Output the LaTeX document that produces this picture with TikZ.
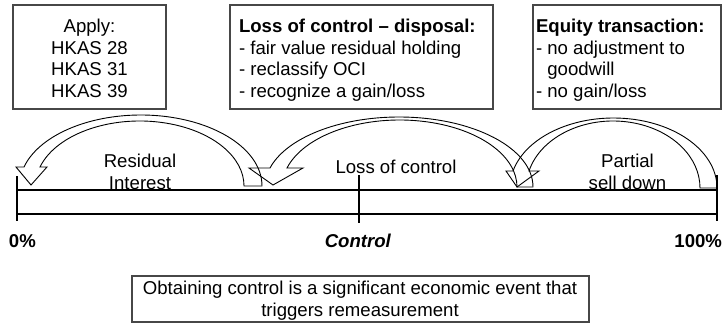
\documentclass[tikz,border=0pt]{standalone}
\usepackage{fontspec}
\setmainfont{Liberation Sans}
\usetikzlibrary{calc}

% geometry keys for a curved block arrow (pixel units, y measured downwards)
\pgfkeys{/bentarrow/.cd,
  yt/.store in=\baYt, yh/.store in=\baYh,
  ol/.store in=\baOl, or/.store in=\baOr, op/.store in=\baOp,
  il/.store in=\baIl, ir/.store in=\baIr, ip/.store in=\baIp,
  bl/.store in=\baBl, br/.store in=\baBr, tx/.store in=\baTx, ty/.store in=\baTy}

% hollow curved arrow: tail on the right, head on the left
\newcommand\bentarrow[1]{%
  \pgfkeys{/bentarrow/.cd,#1}%
  \pgfmathsetmacro\baTailY{325-\baYt}%
  \pgfmathsetmacro\baHeadY{325-\baYh}%
  \pgfmathsetmacro\baTipY{325-\baTy}%
  \pgfmathsetmacro\baRyo{\baYt-\baOp}%
  \pgfmathsetmacro\baRyi{\baYt-\baIp}%
  \pgfmathsetmacro\baSo{(\baYt-\baYh)/\baRyo}%
  \pgfmathsetmacro\baSi{(\baYt-\baYh)/\baRyi}%
  \pgfmathsetmacro\baRxo{(\baOr-\baOl)/(1+sqrt(1-\baSo*\baSo))}%
  \pgfmathsetmacro\baRxi{(\baIr-\baIl)/(1+sqrt(1-\baSi*\baSi))}%
  \pgfmathsetmacro\baAo{180-asin(\baSo)}%
  \pgfmathsetmacro\baAi{180-asin(\baSi)}%
  \draw[arrowline] (\baIr,\baTailY) -- (\baOr,\baTailY)
    arc[start angle=0, end angle=\baAo, x radius=\baRxo, y radius=\baRyo]
    -- (\baBl,\baHeadY) -- (\baTx,\baTipY) -- (\baBr,\baHeadY) -- (\baIl,\baHeadY)
    arc[start angle=\baAi, end angle=0, x radius=\baRxi, y radius=\baRyi]
    -- cycle;
}

\colorlet{boxgray}{black!72}

\begin{document}
\begin{tikzpicture}[x=1pt, y=1pt,
  font=\fontsize{18.6}{21.7}\selectfont,
  box/.style={draw=boxgray, line width=1.3pt, inner sep=0pt, outer sep=0pt, anchor=south west},
  txt/.style={inner sep=0pt, outer sep=0pt},
  arrowline/.style={draw=black, line width=0.9pt, line join=miter},
  bar/.style={draw=black, line width=1.1pt}]
\useasboundingbox (0,0) rectangle (725,325);

% text boxes along the top
\node[box, minimum width=153, minimum height=104] (applybox) at (13,216) {};
\node[box, minimum width=263, minimum height=104] (lossbox) at (230,216) {};
\node[box, minimum width=188, minimum height=104] (equitybox) at (533,216) {};

\node[txt, anchor=north, align=center] (applytext) at (89.5,306)
  {Apply:\\HKAS 28\\HKAS 31\\HKAS 39};
\node[txt, anchor=north west, align=left] (losstext) at (239,306)
  {\textbf{Loss of control -- disposal:}\\- fair value residual holding\\- reclassify OCI\\- recognize a gain/loss};
\node[txt, anchor=north west, align=left] (equitytext) at (536,306)
  {\textbf{Equity transaction:}\\- no adjustment to\\\phantom{- }goodwill\\- no gain/loss};

% curved arrows
\bentarrow{yt=186, yh=167, ol=24, or=262, op=115, il=40, ir=244, ip=121, bl=16, br=47, tx=31, ty=185}
\bentarrow{yt=187, yh=168, ol=270, or=533, op=117, il=287, ir=517, ip=120, bl=249, br=303, tx=273, ty=185}
\bentarrow{yt=188, yh=171, ol=513, or=717, op=118, il=529, ir=700, ip=121, bl=506, br=539, tx=517, ty=187}

% arrow labels
\node[txt, anchor=north, align=center] (residual) at (140,171) {Residual\\Interest};
\node[txt, anchor=base] (losslabel) at (396,152) {Loss of control};
\node[txt, anchor=north, align=center] (partial) at (627.5,171) {Partial\\sell down};

% control scale
\coordinate (barLT) at (17,135);
\coordinate (barRT) at (717,135);
\coordinate (barLB) at (17,111);
\coordinate (barRB) at (717,111);
\draw[bar] (barLT) -- (barRT);
\draw[bar] (barLB) -- (barRB);
\draw[bar] (17,149) -- (17,104);
\draw[bar] (717,150) -- (717,104);
\draw[bar] (359,150) -- (359,102);

\node[txt, anchor=base west] (zero) at (9,78) {\textbf{0\%}};
\node[txt, anchor=base] (control) at (358,78) {\textbf{\itshape Control}};
\node[txt, anchor=base east] (hundred) at (722,78) {\textbf{100\%}};

% note box
\node[box, minimum width=457, minimum height=46] (notebox) at (132,3) {};
\node[txt, anchor=north, align=center] (notetext) at (360,44)
  {Obtaining control is a significant economic event that\\triggers remeasurement};
\end{tikzpicture}
\end{document}
